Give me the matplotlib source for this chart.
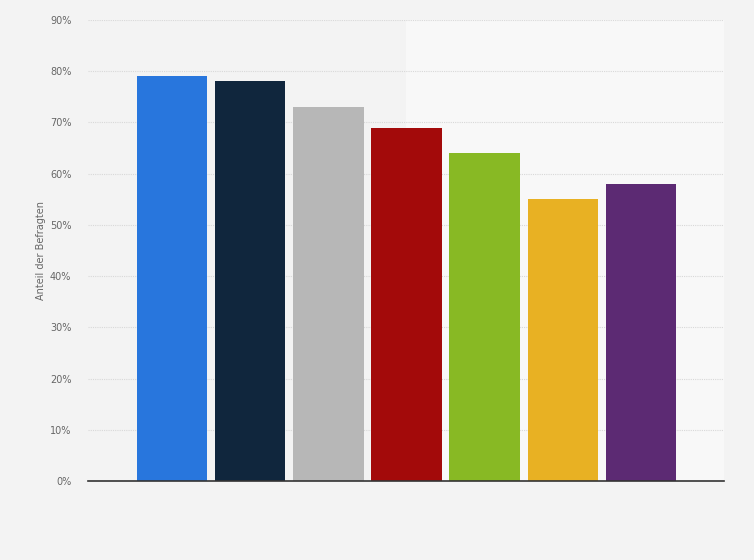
import matplotlib.pyplot as plt
from matplotlib.patches import Rectangle

# bar values in percent
categories = ["1", "2", "3", "4", "5", "6", "7"]
values = [79, 78, 73, 69, 64, 55, 58]
colors = ["#2876dd", "#10263d", "#b7b7b7", "#a30a0a", "#88b924", "#e8b123", "#5c2a73"]
yticks = [0, 10, 20, 30, 40, 50, 60, 70, 80, 90]

fig = plt.figure(figsize=(7.54, 5.6), dpi=100, facecolor="#f3f3f3")
ax = fig.add_axes([0.1167, 0.1411, 0.8435, 0.8232])
ax.set_facecolor("#f3f3f3")

# lighter right half of the plot area
ax.add_patch(Rectangle((0.5, 0), 0.5, 1, transform=ax.transAxes,
                       facecolor="#f8f8f8", edgecolor="none", zorder=0))

x = list(range(len(categories)))
ax.bar(x, values, width=0.9, color=colors, zorder=3)

ax.set_xlim(-1.077, len(categories) - 1 + 1.064)
ax.set_ylim(0, 90)
ax.set_yticks(yticks)
ax.set_yticklabels([f"{t}%" for t in yticks], fontsize=7, color="#666666")
ax.set_xticks([])

ax.grid(axis="y", color="#d8d8d8", linestyle=(0, (1, 1)), linewidth=0.8, zorder=1)
for s in ["top", "right", "left"]:
    ax.spines[s].set_visible(False)
ax.spines["bottom"].set_color("#333333")
ax.spines["bottom"].set_linewidth(1.2)
ax.spines["bottom"].set_zorder(4)
ax.tick_params(axis="y", length=0, pad=12)

ax.set_ylabel("Anteil der Befragten", fontsize=7, color="#666666", labelpad=3)

fig.savefig("out.png", dpi=100, facecolor=fig.get_facecolor())
